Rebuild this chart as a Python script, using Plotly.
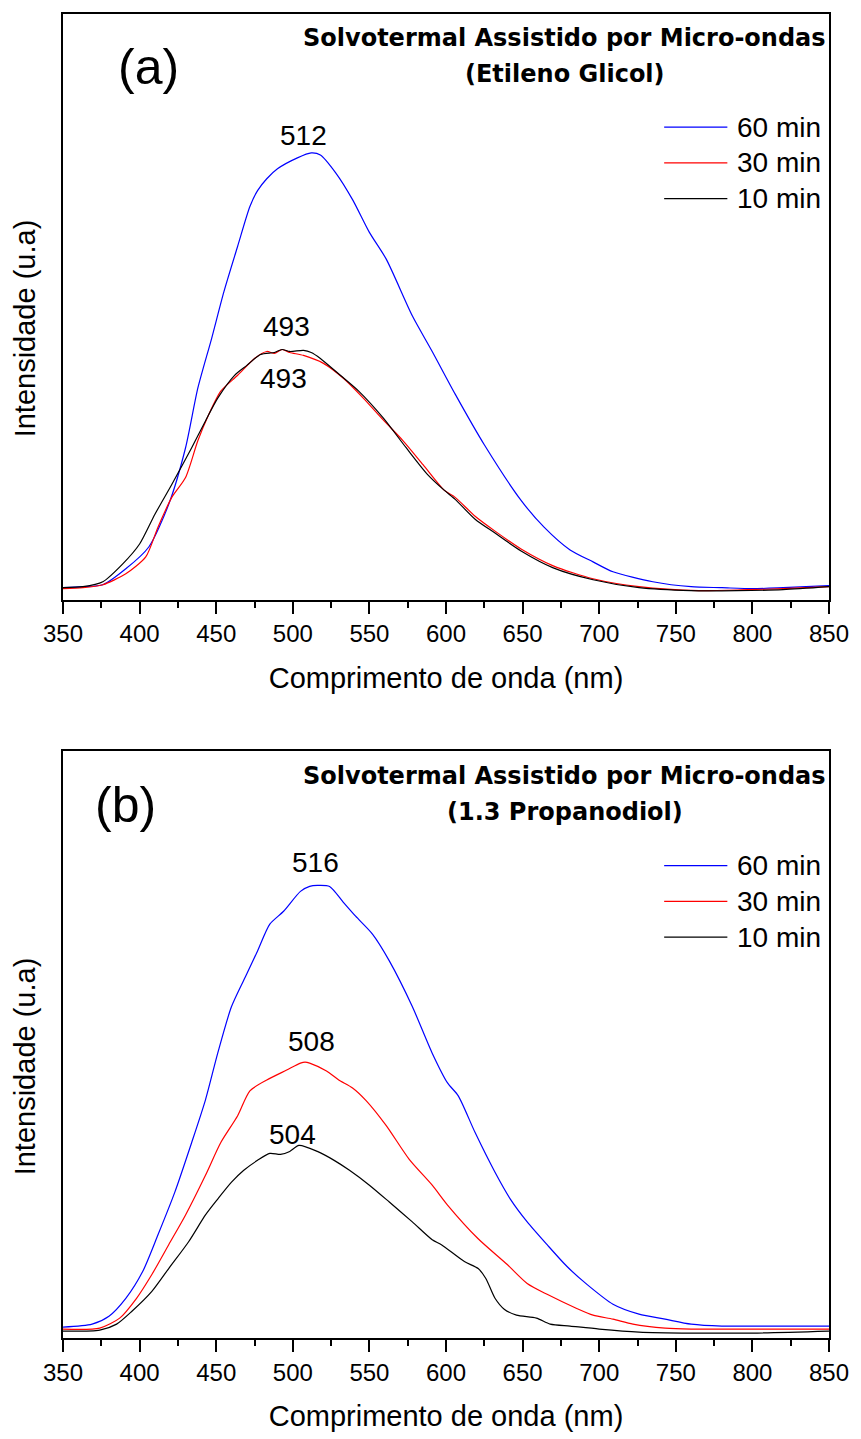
import plotly.graph_objects as go

# ---- (a) Etileno Glicol: emission spectra ----
eg60_nm = [350, 363, 376, 391, 406, 419, 430, 438, 447, 455, 464, 472, 477, 483, 490, 503, 512, 518,
           528, 539, 550, 561, 578, 591, 606, 625, 649, 664, 681, 696, 709, 735, 760, 780, 800, 820, 850]
eg60 = [12, 13, 15, 31, 53, 96, 153, 213, 263, 310, 356, 396, 412, 424, 434, 445, 450, 448,
        430, 403, 370, 343, 286, 250, 207, 156, 100, 73, 50, 38, 28, 18, 13, 12, 11, 12, 14]

eg30_nm = [350, 363, 376, 391, 404, 412, 421, 430, 438, 445, 453, 464, 475, 483, 488, 493, 498,
           507, 520, 533, 546, 559, 572, 585, 599, 606, 619, 632, 649, 670, 696, 726, 765, 797, 820, 850]
eg30 = [11, 12, 15, 26, 43, 73, 103, 123, 160, 186, 210, 226, 243, 250, 248, 252, 249,
        246, 238, 223, 203, 181, 160, 136, 110, 103, 84, 69, 51, 34, 21, 13, 9, 10, 11, 13]

eg10_nm = [350, 363, 376, 389, 400, 410, 421, 434, 443, 451, 462, 470, 479, 488, 493, 498, 507,
           512, 518, 531, 543, 559, 574, 588, 599, 606, 619, 632, 649, 670, 696, 726, 760, 790, 820, 850]
eg10 = [12, 13, 18, 36, 56, 86, 116, 153, 180, 203, 226, 236, 247, 249, 252, 250, 251,
        249, 243, 226, 210, 183, 153, 126, 110, 101, 81, 67, 49, 32, 20, 12, 9, 9, 10, 13]

# ---- (b) 1.3 Propanodiol: emission spectra ----
pd60_nm = [350, 369, 380, 391, 402, 412, 423, 434, 443, 451, 460, 470, 477, 485, 494, 505, 511,
           516, 524, 533, 541, 552, 563, 578, 591, 601, 608, 619, 632, 642, 653, 666, 679, 692,
           709, 726, 743, 760, 780, 800, 850]
pd60 = [11, 14, 22, 40, 67, 104, 147, 197, 240, 287, 334, 367, 390, 417, 430, 450, 455,
        456, 455, 439, 425, 407, 380, 334, 287, 257, 244, 207, 167, 140, 117, 94, 72, 54,
        34, 24, 19, 14, 12, 12, 12]

pd30_nm = [350, 374, 387, 398, 408, 419, 430, 443, 453, 464, 472, 483, 496, 505, 508, 511, 522,
           530, 539, 548, 561, 576, 591, 601, 621, 640, 653, 666, 685, 696, 709, 722, 743, 760,
           800, 850]
pd30 = [9, 10, 20, 40, 64, 94, 124, 164, 197, 224, 249, 260, 270, 277, 278, 277, 269,
        260, 252, 239, 214, 180, 154, 134, 100, 74, 55, 44, 30, 23, 19, 14, 10, 9,
        9, 9]

pd10_nm = [350, 374, 385, 395, 408, 419, 432, 443, 451, 460, 468, 477, 485, 492, 498, 504, 516,
           527, 537, 550, 563, 578, 591, 597, 612, 621, 626, 632, 638, 646, 659, 668, 681, 700,
           726, 760, 800, 850]
pd10 = [7, 8, 14, 27, 47, 70, 97, 124, 140, 157, 169, 179, 186, 185, 188, 194, 188,
        179, 169, 154, 137, 117, 99, 94, 77, 70, 60, 40, 29, 23, 20, 14, 12, 9,
        6, 5, 5, 7]

series_labels = ["60 min", "30 min", "10 min"]
series_colors = ["#0000FF", "#FF0000", "#000000"]

panel_a = [(eg60_nm, eg60), (eg30_nm, eg30), (eg10_nm, eg10)]
panel_b = [(pd60_nm, pd60), (pd30_nm, pd30), (pd10_nm, pd10)]

# peak labels: (text, wavelength, intensity) placed above/below the curves
peaks_a = [("512", 507, 468), ("493", 495.6, 275), ("493", 493.7, 223)]
peaks_b = [("516", 514.6, 479), ("508", 512, 299), ("504", 499.5, 205)]

titles = [("Solvotermal Assistido por Micro-ondas", "(Etileno Glicol)"),
          ("Solvotermal Assistido por Micro-ondas", "(1.3 Propanodiol)")]
panel_tags = ["(a)", "(b)"]

FONT = "Liberation Sans, Arial, sans-serif"
TITLE_FONT = "DejaVu Sans, Liberation Sans, sans-serif"

fig = go.Figure()

for axn, panel in (("", panel_a), ("2", panel_b)):
    for (nm, val), name, col in zip(panel, series_labels, series_colors):
        fig.add_trace(go.Scatter(
            x=nm, y=val, mode="lines", name=name,
            line=dict(color=col, width=1.2, shape="spline", smoothing=0.7),
            xaxis="x" + axn, yaxis="y" + axn, showlegend=False,
        ))

xcommon = dict(
    range=[350, 850], tickmode="linear", tick0=350, dtick=50,
    ticks="outside", ticklen=12, tickwidth=2, tickcolor="black",
    showline=True, linewidth=2, linecolor="black", mirror=True,
    showgrid=False, zeroline=False,
    tickfont=dict(family=FONT, size=24, color="black"),
    minor=dict(ticks="outside", ticklen=6, tickwidth=2, tickcolor="black",
               tick0=350, dtick=25, showgrid=False),
    title=dict(text="Comprimento de onda (nm)", font=dict(family=FONT, size=29, color="black"),
               standoff=21),
)
ycommon = dict(
    showticklabels=False, ticks="", showline=True, linewidth=2, linecolor="black",
    mirror=True, showgrid=False, zeroline=False,
)

fig.update_layout(
    width=861, height=1439,
    margin=dict(l=63, r=22, t=13, b=92),
    paper_bgcolor="white", plot_bgcolor="white",
    font=dict(family=FONT, color="black"),
    xaxis=dict(anchor="y", domain=[0, 1], **xcommon),
    yaxis=dict(anchor="x", domain=[0.5577, 1.0], range=[0, 590], **ycommon),
    xaxis2=dict(anchor="y2", domain=[0, 1], **xcommon),
    yaxis2=dict(anchor="x2", domain=[0, 0.4430], range=[0, 591], **ycommon),
)

annotations = []
shapes = []
for axn, peaks, (t1, t2), tag in (("", peaks_a, titles[0], panel_tags[0]),
                                   ("2", peaks_b, titles[1], panel_tags[1])):
    xr, yr = "x" + axn, "y" + axn
    for txt, wl, iv in peaks:
        annotations.append(dict(text=txt, x=wl, y=iv, xref=xr, yref=yr, showarrow=False,
                                xanchor="center", yanchor="middle",
                                font=dict(family=FONT, size=28, color="black")))
    annotations.append(dict(text=tag, x=406 if axn == "" else 391, y=537, xref=xr, yref=yr,
                            showarrow=False, xanchor="center", yanchor="middle",
                            font=dict(family=FONT, size=50, color="black")))
    annotations.append(dict(text="<b>%s</b>" % t1, x=0.6546, y=566, xref=xr + " domain", yref=yr,
                            showarrow=False, xanchor="center", yanchor="middle",
                            font=dict(family=TITLE_FONT, size=24, color="black")))
    annotations.append(dict(text="<b>%s</b>" % t2, x=0.6560, y=530, xref=xr + " domain", yref=yr,
                            showarrow=False, xanchor="center", yanchor="middle",
                            font=dict(family=TITLE_FONT, size=24, color="black")))
    annotations.append(dict(text="Intensidade (u.a)", x=-0.0503, y=0.464, xref=xr + " domain",
                            yref=yr + " domain", showarrow=False, textangle=-90,
                            xanchor="center", yanchor="middle",
                            font=dict(family=FONT, size=29, color="black")))
    # legend: sample line + label for each series
    for i, (name, col) in enumerate(zip(series_labels, series_colors)):
        ly = 476 - 36 * i
        shapes.append(dict(type="line", xref=xr + " domain", yref=yr,
                           x0=0.7848, x1=0.8673, y0=ly, y1=ly,
                           line=dict(color=col, width=1.2)))
        annotations.append(dict(text=name, x=0.8776, y=ly, xref=xr + " domain", yref=yr,
                                showarrow=False, xanchor="left", yanchor="middle",
                                font=dict(family=FONT, size=28, color="black")))

fig.update_layout(annotations=annotations, shapes=shapes)

fig.write_html("out.html")
